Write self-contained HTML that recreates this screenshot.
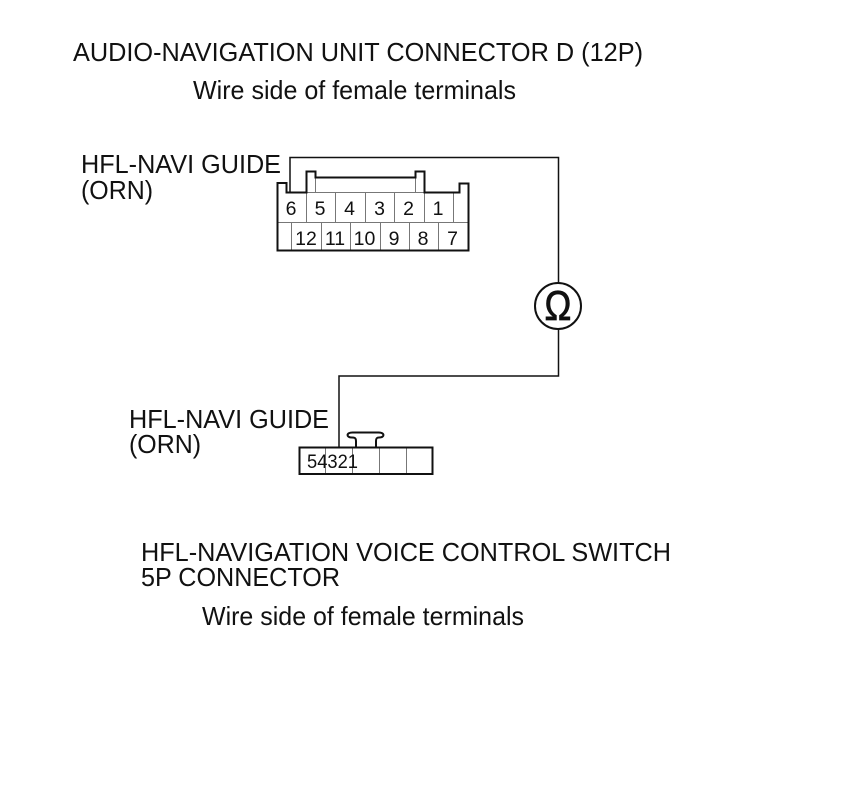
<!DOCTYPE html>
<html><head><meta charset="utf-8"><style>
html,body{margin:0;padding:0;background:#fff}
svg{display:block}
text{font-family:"Liberation Sans",sans-serif;fill:#111}
.t{font-size:25.6px}
.n{font-size:19.5px;text-anchor:middle}
</style></head><body>
<svg width="860" height="788" viewBox="0 0 860 788" xmlns="http://www.w3.org/2000/svg">
<rect width="860" height="788" fill="#fff"/>
<text class="t" x="73" y="61" textLength="570" lengthAdjust="spacingAndGlyphs">AUDIO-NAVIGATION UNIT CONNECTOR D (12P)</text>
<text class="t" x="193" y="99" textLength="323" lengthAdjust="spacingAndGlyphs">Wire side of female terminals</text>
<text class="t" x="81" y="173" textLength="200" lengthAdjust="spacingAndGlyphs">HFL-NAVI GUIDE</text>
<text class="t" x="81" y="199" textLength="72" lengthAdjust="spacingAndGlyphs">(ORN)</text>
<text class="t" x="129" y="428" textLength="200" lengthAdjust="spacingAndGlyphs">HFL-NAVI GUIDE</text>
<text class="t" x="129" y="453" textLength="72" lengthAdjust="spacingAndGlyphs">(ORN)</text>
<text class="t" x="141" y="561" textLength="530" lengthAdjust="spacingAndGlyphs">HFL-NAVIGATION VOICE CONTROL SWITCH</text>
<text class="t" x="141" y="586" textLength="199" lengthAdjust="spacingAndGlyphs">5P CONNECTOR</text>
<text class="t" x="202" y="625" textLength="322" lengthAdjust="spacingAndGlyphs">Wire side of female terminals</text>

<g fill="none" stroke="#777" stroke-width="1">
<path d="M286 192.5H460M277.5 222.5H468.5"/>
<path d="M315.5 177V192M415.5 177V192"/>
<path d="M306.5 192V222M335.5 192V222M365.5 192V222M394.5 192V222M424.5 192V222M453.5 192V222"/>
<path d="M291.5 222V251M321.5 222V251M350.5 222V251M380.5 222V251M409.5 222V251M438.5 222V251"/>
<path d="M325.5 447V474M352.5 447V474M379.5 447V474M406.5 447V474M356 447.5H376"/>
</g>
<path fill="none" stroke="#111" stroke-width="2" d="M277.5 183H286.5V192.5H306.5V171.500H315.5V177.5H415.5V171.500H424.5V192.5H459.5V183.5H468.5V250.5H277.5Z"/>
<path fill="none" stroke="#111" stroke-width="1.5" d="M290 192V157.5H558.5V283M558.5 329V376H339V447"/>
<circle cx="558" cy="306" r="23" fill="none" stroke="#111" stroke-width="2"/>
<text transform="translate(558,320) scale(1,1.15)" style="font-size:36px;text-anchor:middle;stroke:#111;stroke-width:.7">Ω</text>

<rect x="299.5" y="447.5" width="133" height="26.5" fill="none" stroke="#111" stroke-width="2"/>
<path fill="none" stroke="#111" stroke-width="2" d="M356 447V441C356 437.500 354 437.500 352 437.500C346 437.500 346 432.500 352.500 432.500H378.500C385 432.500 385 437.500 379 437.500C377 437.500 376 438 376 441V447"/>

<g>
<text class="n" x="291" y="215">6</text>
<text class="n" x="320" y="215">5</text>
<text class="n" x="349.500" y="215">4</text>
<text class="n" x="379.500" y="215">3</text>
<text class="n" x="408.500" y="215">2</text>
<text class="n" x="438" y="215">1</text>
<text class="n" x="306" y="245">12</text>
<text class="n" x="335" y="245">11</text>
<text class="n" x="364.500" y="245">10</text>
<text class="n" x="394" y="245">9</text>
<text class="n" x="423" y="245">8</text>
<text class="n" x="452.500" y="245">7</text>
</g>
<text x="307" y="468" textLength="51" lengthAdjust="spacingAndGlyphs" style="font-size:19.5px">54321</text>
</svg>
</body></html>
